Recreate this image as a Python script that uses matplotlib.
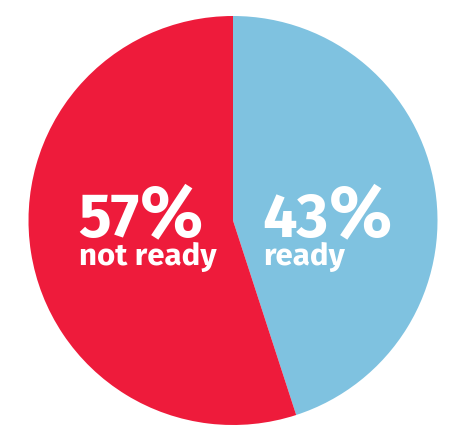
import matplotlib
matplotlib.use("Agg")
import matplotlib.pyplot as plt

# Data
categories = ["ready", "not ready"]
label_percent = [43, 57]          # printed labels
drawn_share = [45, 55]            # wedge sizes as drawn in the picture
colors = ["#7fc2e0", "#ee1b3b"]

W, H = 457, 434
fig = plt.figure(figsize=(W / 100, H / 100), dpi=100)
ax = fig.add_axes([0, 0, 1, 1])

cx, cy, r = 233, H - 220.5, 204.5
ax.pie(drawn_share, colors=colors, startangle=90, counterclock=False,
       radius=r, center=(cx, cy), wedgeprops=dict(linewidth=0))
ax.set_xlim(0, W)
ax.set_ylim(0, H)
ax.set_aspect("equal")
ax.axis("off")

font = ["Fira Sans", "DejaVu Sans"]
style = dict(fontweight="bold", color="white", family=font, ha="left", va="baseline")

renderer = fig.canvas.get_renderer()


def big_label(x, num, word):
    t = ax.text(x, H - 237, f"{num}", fontsize=44, **style)
    bb = t.get_window_extent(renderer)
    x1 = ax.transData.inverted().transform((bb.x1, bb.y0))[0]
    ax.text(x1 + 1, H - 236, "%", fontsize=53, **style)
    ax.text(x + 1, H - 265, word, fontsize=22.5, **style)


big_label(78, label_percent[1], categories[1])
big_label(262, label_percent[0], categories[0])

fig.savefig("out.png", dpi=100)
